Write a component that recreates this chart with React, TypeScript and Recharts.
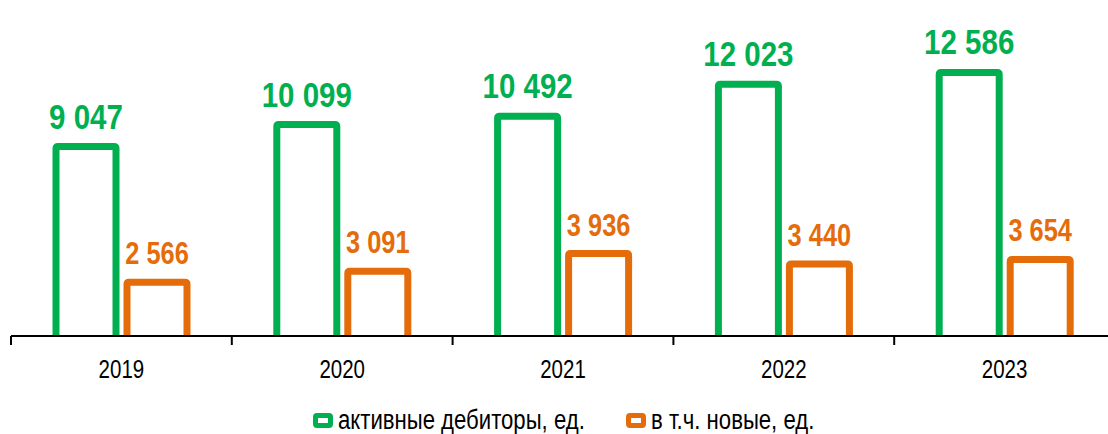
import React from 'react';
import { BarChart, Bar, XAxis, YAxis, LabelList, Legend } from 'recharts';

const years = ['2019', '2020', '2021', '2022', '2023'];
const activeDebtors = [9047, 10099, 10492, 12023, 12586];
const newDebtors = [2566, 3091, 3936, 3440, 3654];

const GREEN = '#00B050';
const ORANGE = '#E46C0A';
const FONT = '"Liberation Sans", Arial, sans-serif';
// no Arial Narrow here, squeeze Liberation Sans instead
const NARROW = 0.82;

const CHART_W = 1115;
const LEFT = 11;
const BAND = (CHART_W - LEFT) / years.length;

const data = years.map((year, i) => ({
  year,
  active: activeDebtors[i],
  fresh: newDebtors[i],
}));

// 9047 -> "9 047"
function formatNumber(v: any): string {
  return String(v).replace(/\B(?=(\d{3})+(?!\d))/g, ' ');
}

// outlined bar without the bottom edge, the axis closes it
const OpenBar = (props: any) => {
  const { x, y, width, height, stroke } = props;
  if (!height) return null;
  const r = 2;
  const d = `M${x},${y + height} L${x},${y + r} Q${x},${y} ${x + r},${y} L${x + width - r},${y} Q${x + width},${y} ${x + width},${y + r} L${x + width},${y + height}`;
  return <path d={d} fill="#fff" stroke={stroke} strokeWidth={7} strokeLinejoin="round" />;
};

const NarrowText = ({ x, y, size, color, bold, children }: any) => (
  <text
    transform={`translate(${x} ${y}) scale(${NARROW} 1)`}
    textAnchor="middle"
    fontSize={size}
    fontWeight={bold ? 'bold' : 'normal'}
    fontFamily={FONT}
    fill={color}
  >
    {children}
  </text>
);

const makeValueLabel = (color: string, size: number) => (props: any) => {
  const { x, y, width, value } = props;
  return (
    <NarrowText x={x + width / 2} y={y - 18} size={size} color={color} bold>
      {formatNumber(value)}
    </NarrowText>
  );
};

const YearTick = (props: any) => {
  const { x, y, payload } = props;
  return (
    <g>
      <line x1={x - BAND / 2} x2={x - BAND / 2} y1={y} y2={y + 9} stroke="#000" strokeWidth={2} />
      <NarrowText x={x} y={y + 42} size={25} color="#000">
        {payload.value}
      </NarrowText>
    </g>
  );
};

const legendItems = [
  { label: 'активные дебиторы, ед.', color: GREEN, width: 313 },
  { label: 'в т.ч. новые, ед.', color: ORANGE, width: 200 },
];

const ChartLegend = () => (
  <div style={{ display: 'flex', fontFamily: FONT, fontSize: 27, lineHeight: '27px', color: '#000' }}>
    {legendItems.map((item) => (
      <div key={item.label} style={{ display: 'flex', alignItems: 'center', width: item.width, height: 27 }}>
        <svg width={22} height={16} style={{ flexShrink: 0, width: 22, height: 16, marginRight: 3 }}>
          <rect x={2.5} y={2.5} width={15} height={10} rx={1.5} fill="#fff" stroke={item.color} strokeWidth={5} />
        </svg>
        <span
          style={{
            display: 'inline-block',
            whiteSpace: 'nowrap',
            transform: `scaleX(${NARROW})`,
            transformOrigin: 'left center',
          }}
        >
          {item.label}
        </span>
      </div>
    ))}
  </div>
);

export default function App() {
  return (
    <div style={{ position: 'absolute', left: 0, top: 0, width: 1108, height: 434, overflow: 'hidden', background: '#fff' }}>
      <BarChart
        width={CHART_W}
        height={434}
        data={data}
        margin={{ top: 1, right: 0, left: LEFT, bottom: 68 }}
        barSize={60}
        barGap={11}
      >
        <XAxis
          dataKey="year"
          height={30}
          axisLine={{ stroke: '#000', strokeWidth: 2 }}
          tickLine={false}
          tickSize={0}
          tickMargin={0}
          tick={<YearTick />}
          interval={0}
        />
        <YAxis hide domain={[0, 16000]} />
        <Legend
          verticalAlign="middle"
          align="center"
          layout="horizontal"
          content={<ChartLegend />}
          wrapperStyle={{ position: 'absolute', left: 313, top: 407, width: 560 }}
        />
        <Bar dataKey="active" name="активные дебиторы, ед." stroke={GREEN} fill="#fff" shape={<OpenBar />} isAnimationActive={false}>
          <LabelList dataKey="active" content={makeValueLabel(GREEN, 36)} />
        </Bar>
        <Bar dataKey="fresh" name="в т.ч. новые, ед." stroke={ORANGE} fill="#fff" shape={<OpenBar />} isAnimationActive={false}>
          <LabelList dataKey="fresh" content={makeValueLabel(ORANGE, 31)} />
        </Bar>
      </BarChart>
    </div>
  );
}
